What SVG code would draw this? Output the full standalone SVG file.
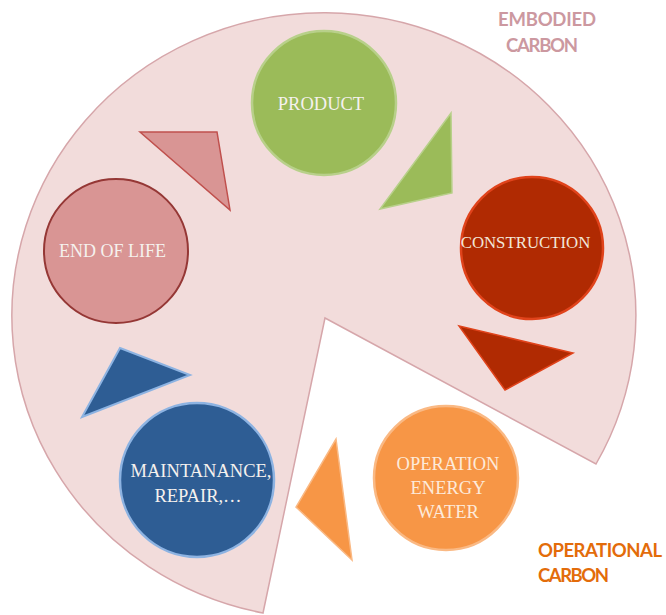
<svg xmlns="http://www.w3.org/2000/svg" width="666" height="615" viewBox="0 0 666 615">
<style>
.lbl{font-family:"Liberation Serif","Times New Roman",serif;font-size:18.5px;text-anchor:middle;fill:#f5f1ee}
.cat{font-family:Lato,"Liberation Sans",sans-serif;font-weight:bold;font-size:18.5px}
</style>
<rect width="666" height="615" fill="#ffffff"/>
<g id="embodied-region">
<path d="M325 318 L596 464 A312 303 0 1 0 263 613 Z" fill="#f2dcdb" stroke="#d6a6aa" stroke-width="1.5"/>
</g>
<g id="connectors">
<polygon points="140,132 217,132 230,210" fill="#d99594" stroke="#c0504d" stroke-width="1.5"/>
<polygon points="451,113 452,193 380,209" fill="#9bbb59" stroke="#b8d08a" stroke-width="1.5"/>
<polygon points="459,326 573,353 505,390" fill="#b02a02" stroke="#e0431b" stroke-width="1.5"/>
<polygon points="336,439 352,560 296,507" fill="#f79646" stroke="#fab984" stroke-width="1.5"/>
<polygon points="120,348 190,375 82,417" fill="#2e5d94" stroke="#8db3e2" stroke-width="2"/>
</g>
<g id="product">
<circle cx="324" cy="103" r="72" fill="#9bbb59" stroke="#b8d08a" stroke-width="2.5"/>
<text class="lbl" x="321" y="110">PRODUCT</text>
</g>
<g id="construction">
<circle cx="532" cy="248" r="71" fill="#b02a02" stroke="#e0431b" stroke-width="2.5"/>
<text class="lbl" x="525.5" y="248" style="font-size:16.8px;fill:#f2e6d8">CONSTRUCTION</text>
</g>
<g id="end-of-life">
<circle cx="116" cy="251" r="72" fill="#d99594" stroke="#953735" stroke-width="2"/>
<text class="lbl" x="112.5" y="257" style="font-size:18px">END OF LIFE</text>
</g>
<g id="maintanance">
<circle cx="197" cy="480" r="77" fill="#2e5d94" stroke="#8db3e2" stroke-width="2.5"/>
<text class="lbl" x="201" y="477">MAINTANANCE,</text>
<text class="lbl" x="198" y="502">REPAIR,…</text>
</g>
<g id="operation">
<circle cx="446" cy="478" r="72" fill="#f79646" stroke="#fab984" stroke-width="2.5"/>
<text class="lbl" x="448" y="470" style="fill:#fdeada">OPERATION</text>
<text class="lbl" x="448" y="494" style="fill:#fdeada">ENERGY</text>
<text class="lbl" x="448" y="518" style="fill:#fdeada">WATER</text>
</g>
<g id="embodied-carbon-label">
<text class="cat" x="498" y="26" fill="#cc98a0" textLength="98">EMBODIED</text>
<text class="cat" x="506" y="52" fill="#cc98a0" textLength="72">CARBON</text>
</g>
<g id="operational-carbon-label">
<text class="cat" x="538" y="557" fill="#e36c0a" textLength="124">OPERATIONAL</text>
<text class="cat" x="538" y="582" fill="#e36c0a" textLength="71">CARBON</text>
</g>
</svg>
